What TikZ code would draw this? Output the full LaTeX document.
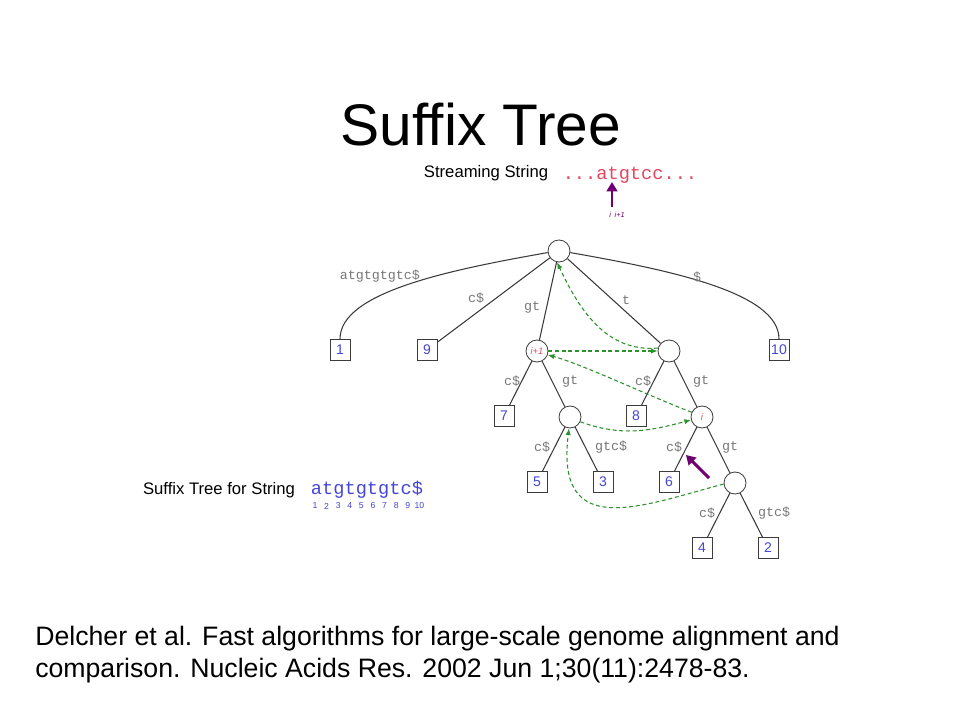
\documentclass[tikz,border=0pt]{standalone}
\usepackage{fontspec}
\setmainfont{Liberation Sans}
\setmonofont{Liberation Mono}
\usetikzlibrary{
    arrows.meta,
    positioning
}
\definecolor{treeline}{RGB}{60,60,60}
\definecolor{leafblue}{RGB}{70,70,215}
\definecolor{labelgrey}{RGB}{120,120,120}
\definecolor{linkgreen}{RGB}{45,145,45}
\definecolor{streamred}{RGB}{230,70,95}
\definecolor{pointer}{RGB}{110,0,115}
\tikzset{branch/.style={
    draw=treeline,
    circle,
    line width=0.6pt,
    minimum size=16.5pt,
    inner sep=0pt
}}
\tikzset{leaf/.style={
    draw=treeline,
    line width=0.6pt,
    minimum width=15pt,
    minimum height=16pt,
    inner sep=0pt,
    text=leafblue,
    font=\fontsize{10.5}{12}\selectfont
}}
\tikzset{edgelabel/.style={text=labelgrey, font=\ttfamily\fontsize{10}{11}\selectfont, inner sep=0pt}}
\tikzset{tree/.style={draw=treeline, line width=0.8pt}}
\tikzset{link/.style={draw=linkgreen, densely dashed, line width=0.8pt, -{Latex[length=5pt,width=4pt]}}}
\tikzset{pointerarrow/.style={draw=pointer, line width=2.2pt, -{Triangle[length=7pt,width=8pt]}}}

\begin{document}
\begin{tikzpicture}[x=0.75pt, y=-0.75pt]
        \useasboundingbox[fill=white] (0,0) rectangle (960,720);

        \node[font=\fontsize{44}{50}\selectfont]
            (title) at (481,125)
            {Suffix Tree};

        % streaming string
        \node[font=\fontsize{12.5}{14}\selectfont]
            (stream-label) at (486,173)
            {Streaming String};
        \node[text=streamred, font=\ttfamily\fontsize{14}{16}\selectfont]
            (stream) at (630,175)
            {...atgtcc...};
        \coordinate (stream-tail) at (612,207);
        \coordinate (stream-tip) at (612,182);
        \node[text=pointer, font=\itshape\fontsize{5.5}{6}\selectfont]
            (stream-pos) at (617,215)
            {i\enspace i+1};

        % tree nodes
        \node[branch] (root) at (559,251) {};
        \node[leaf] (l1) at (340,350) {1};
        \node[leaf] (l9) at (427,350) {9};
        \node[branch, text=streamred, font=\itshape\fontsize{7}{8}\selectfont]
            (ip1) at (537,351) {i+1};
        \node[branch] (t) at (669,351) {};
        \node[leaf] (l10) at (779,350) {10};
        \node[leaf] (l7) at (504,416) {7};
        \node[branch] (gt) at (570,417) {};
        \node[leaf] (l8) at (636,416) {8};
        \node[branch, text=streamred, font=\itshape\fontsize{7}{8}\selectfont]
            (i) at (702,417) {i};
        \node[leaf] (l5) at (537,482) {5};
        \node[leaf] (l3) at (603,482) {3};
        \node[leaf] (l6) at (669,482) {6};
        \node[branch] (gtgt) at (735,483) {};
        \node[leaf] (l4) at (702,548) {4};
        \node[leaf] (l2) at (768,548) {2};

        % tree edges
        \draw[tree] (root.188) to[out=190, in=90, out distance=75pt, in distance=35pt] (l1.north);
        \draw[tree] (root) -- (l9);
        \draw[tree] (root) -- (ip1);
        \draw[tree] (root) -- (t);
        \draw[tree] (root.-8) to[out=-10, in=90, out distance=75pt, in distance=35pt] (l10.north);
        \draw[tree] (ip1) -- (l7);
        \draw[tree] (ip1) -- (gt);
        \draw[tree] (t) -- (l8);
        \draw[tree] (t) -- (i);
        \draw[tree] (gt) -- (l5);
        \draw[tree] (gt) -- (l3);
        \draw[tree] (i) -- (l6);
        \draw[tree] (i) -- (gtgt);
        \draw[tree] (gtgt) -- (l4);
        \draw[tree] (gtgt) -- (l2);

        % edge labels
        \node[edgelabel] (e-l1) at (380,276) {atgtgtgtc\$};
        \node[edgelabel] (e-l9) at (476,298) {c\$};
        \node[edgelabel] (e-ip1) at (532,307) {gt};
        \node[edgelabel] (e-t) at (626,300) {t};
        \node[edgelabel] (e-l10) at (697,277) {\$};
        \node[edgelabel] (e-l7) at (512,381) {c\$};
        \node[edgelabel] (e-gt) at (570,381) {gt};
        \node[edgelabel] (e-l8) at (643,381) {c\$};
        \node[edgelabel] (e-i) at (701,381) {gt};
        \node[edgelabel] (e-l5) at (542,447) {c\$};
        \node[edgelabel] (e-l3) at (611,447) {gtc\$};
        \node[edgelabel] (e-l6) at (674,447) {c\$};
        \node[edgelabel] (e-gtgt) at (730,447) {gt};
        \node[edgelabel] (e-l4) at (707,513) {c\$};
        \node[edgelabel] (e-l2) at (774,513) {gtc\$};

        % suffix links
        \draw[link] (t.165) to[out=185, in=-65] (root.-100);
        \draw[link] (ip1.east) -- (t.west);
        \draw[link] (i.155) to[out=160, in=-15, looseness=0.6] (ip1.-20);
        \draw[link] (gt.-25) to[out=-20, in=195] (i.-165);
        \draw[link] (gtgt.185) to[out=195, in=-97, out distance=65pt, in distance=85pt] (gt.-95);

        % string
        \node[font=\fontsize{12.5}{14}\selectfont]
            (string-label) at (219,490)
            {Suffix Tree for String};
        \node[text=leafblue, font=\ttfamily\fontsize{14}{16}\selectfont]
            (string) at (367,490)
            {atgtgtgtc\$};
        \foreach \k in {1,...,10}
            \node[text=leafblue, font=\fontsize{6.5}{7}\selectfont, inner sep=0pt]
                (pos-\k) at ({315+11.6*(\k-1)},506) {\k};

        % pointers
        \coordinate (scan-tail) at (709,478);
        \coordinate (scan-tip) at (686,455);
        \draw[pointerarrow] (stream-tail) -- (stream-tip);
        \draw[pointerarrow] (scan-tail) -- (scan-tip);

        % reference
        \node[anchor=north west, align=left, inner sep=0pt,
              font=\fontsize{20}{24}\selectfont]
            (citation) at (35,626)
            {Delcher et al. Fast algorithms for large-scale genome alignment and\\
             comparison. Nucleic Acids Res. 2002 Jun 1;30(11):2478-83.};

    \end{tikzpicture}
\end{document}
